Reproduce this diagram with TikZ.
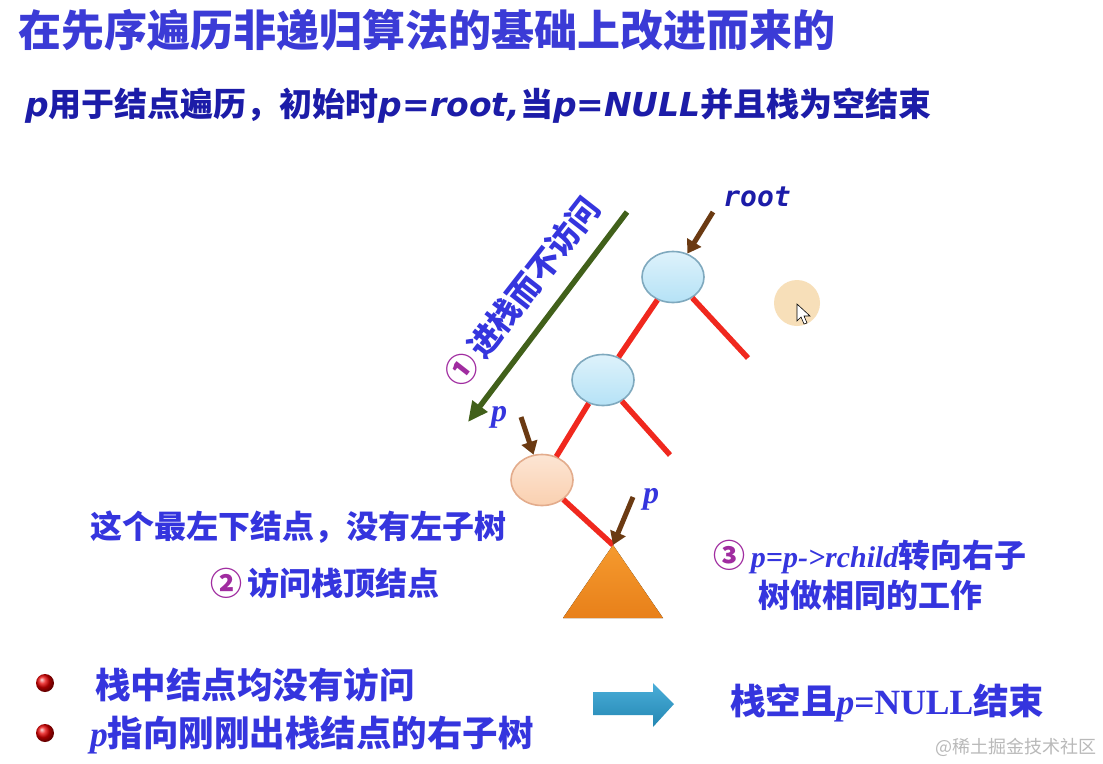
\documentclass[tikz,border=0pt]{standalone}
\usepackage{fontspec}
\setmainfont{Liberation Serif}
\newfontfamily\cjk{Noto Sans CJK SC}
\newfontfamily\dvsans{DejaVu Sans}
\newfontfamily\dvmono{DejaVu Sans Mono}
\usetikzlibrary{arrows.meta, shapes.geometric}
\definecolor{tblue}{HTML}{3B3BD6}
\definecolor{sblue}{HTML}{1C1CA8}
\definecolor{bblue}{HTML}{3535DE}
\definecolor{cpurple}{HTML}{A02CA0}
\definecolor{ered}{HTML}{F0281E}
\definecolor{abrown}{HTML}{6B3A12}
\definecolor{agreen}{HTML}{41601A}
\definecolor{nblue}{HTML}{B5E2F6}
\definecolor{nbord}{HTML}{7FA9BE}
\definecolor{npeach}{HTML}{FAD0B0}
\definecolor{pbord}{HTML}{E3AC8C}
\definecolor{tolight}{HTML}{F59A2E}
\definecolor{todark}{HTML}{E8801A}
\definecolor{acyan}{HTML}{2A9FD2}
\definecolor{cursorc}{HTML}{F6D8A8}

\newcommand\zh[1]{{\cjk\bfseries #1}}

\tikzset{
  treenode/.style={ellipse, minimum width=62pt, minimum height=51pt, inner sep=0pt, line width=1.6pt},
  bluenode/.style={treenode, draw=nbord, top color=nblue!45, bottom color=nblue},
  leafnode/.style={treenode, draw=pbord, top color=npeach!55, bottom color=npeach},
  branch/.style={draw=ered, line width=5.5pt},
  pointer/.style={draw=abrown, line width=5pt, -{Triangle[length=13pt, width=16pt]}},
  bodytext/.style={font=\fontsize{32}{40}\cjk\bfseries, text=bblue, inner sep=0pt},
  bigtext/.style={font=\fontsize{35.5}{40}\cjk\bfseries, text=bblue, inner sep=0pt},
  bulletdot/.style={circle, minimum size=18pt, inner sep=0pt, ball color=red!90!black},
}

\begin{document}
\begin{tikzpicture}[x=1pt, y=-1pt]
\useasboundingbox (0,0) rectangle (1103,763);
\fill[white] (0,0) rectangle (1103,763);

% heading lines
\node[font=\fontsize{43}{48}\cjk\bfseries, text=tblue, anchor=west, inner sep=0pt]
  (title) at (18,30) {在先序遍历非递归算法的基础上改进而来的};
\node[font=\fontsize{33}{38}\selectfont, text=sblue, anchor=west, inner sep=0pt]
  (intro) at (25,106) {{\dvsans\bfseries\itshape p}\zh{用于结点遍历，初始时}{\dvsans\bfseries\itshape p=root,}\zh{当}{\dvsans\bfseries\itshape p=NULL}\zh{并且栈为空结束}};

% tree
\node[bluenode] (nroot) at (673,277) {};
\node[bluenode] (nleft) at (603,380) {};
\node[leafnode] (nleaf) at (542,480) {};
\coordinate (rapex) at (613,545);
\fill[top color=tolight, bottom color=todark] (rapex) -- (663,618) -- (563,618) -- cycle;
\coordinate (rootr) at (748,358);
\coordinate (leftr) at (670,455);
\draw[branch] (nroot) -- (nleft);
\draw[branch] (nroot) -- (rootr);
\draw[branch] (nleft) -- (nleaf);
\draw[branch] (nleft) -- (leftr);
\draw[branch] (nleaf) -- (rapex);

% pointers
\node[font=\fontsize{28}{32}\dvmono\bfseries\itshape, text=sblue] (rootlbl) at (757,197) {root};
\coordinate (rootarr) at (713,212);
\draw[pointer] (rootarr) -- (nroot);
\node[font=\fontsize{32}{36}\selectfont\bfseries\itshape, text=bblue] (plbl) at (499,417) {p};
\coordinate (parr) at (521,417);
\draw[pointer] (parr) -- (nleaf);
\node[font=\fontsize{32}{36}\selectfont\bfseries\itshape, text=bblue] (plbl2) at (651,499) {p};
\coordinate (parr2) at (633,497);
\draw[pointer] (parr2) -- (rapex);

% step 1
\coordinate (pushtop) at (627,212);
\coordinate (pushend) at (468,422);
\draw[draw=agreen, line width=5.5pt, -{Triangle[length=20pt, width=18pt]}] (pushtop) -- (pushend);
\node[rotate=52, font=\fontsize{32}{36}\cjk\bfseries, text=bblue, inner sep=0pt]
  (pushlbl) at (522,292) {{\color{cpurple}①}\,进栈而不访问};

% steps 2 and 3
\node[bodytext, anchor=west] (leafnote) at (90,527) {这个最左下结点，没有左子树};
\node[bodytext, anchor=west] (visitnote) at (210,583) {{\color{cpurple}②}\,访问栈顶结点};
\node[bodytext, align=center] (turnnote) at (870,575)
  {{\color{cpurple}③}\,{\rmfamily\itshape\fontsize{30}{40}\selectfont p=p->rchild}转向右子\\树做相同的工作};

% summary
\node[bulletdot] (dot1) at (45,683) {};
\node[bulletdot] (dot2) at (45,733) {};
\node[bigtext, anchor=west] (item1) at (95,685) {栈中结点均没有访问};
\node[bigtext, anchor=west] (item2) at (90,735) {{\rmfamily\itshape p}指向刚刚出栈结点的右子树};
\shade[top color=acyan!85!white, bottom color=acyan!85!black]
  (593,692) -- (653,692) -- (653,683) -- (674,704) -- (653,727) -- (653,715) -- (593,715) -- cycle;
\node[bigtext, anchor=west] (endnote) at (730,703) {栈空且{\rmfamily\itshape p}{\rmfamily =NULL}结束};

% cursor
\fill[cursorc, opacity=.8] (797,303) circle (23pt);
\draw[fill=white, line width=0.6pt] (797,304) -- (797,321) -- (801,317) -- (804,324) -- (807,323) -- (804,316) -- (810,316) -- cycle;

\node[font=\fontsize{18}{20}\cjk, text=gray!55, anchor=east, inner sep=0pt] (mark) at (1097,747) {@稀土掘金技术社区};
\end{tikzpicture}
\end{document}
